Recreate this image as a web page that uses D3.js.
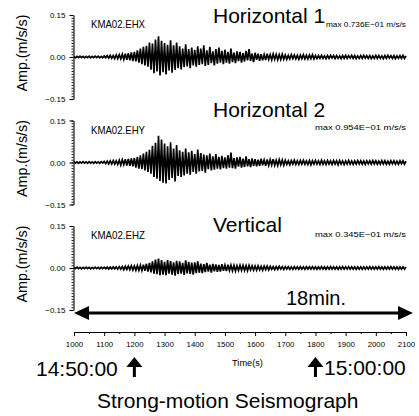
<!DOCTYPE html>
<html><head><meta charset="utf-8">
<script src="https://cdn.jsdelivr.net/npm/d3@7"></script>
<style>
body{margin:0;background:#fff}
svg{display:block}
text{font-family:"Liberation Sans",Arial,Helvetica,sans-serif;fill:#000}
</style>
</head><body>
<svg id="chart" width="419" height="416"></svg>
<script>
// ---------------- data ----------------
const stations = ["KMA02.EHX", "KMA02.EHY", "KMA02.EHZ"];
const componentTitles = ["Horizontal 1", "Horizontal 2", "Vertical"];
const maxLabels = ["max 0.736E\u221201 m/s/s", "max 0.954E\u221201 m/s/s", "max 0.345E\u221201 m/s/s"];
const yAxisTitle = "Amp.(m/s/s)";
const xAxisTitle = "Time(s)";
const yTickValues = [-0.15, 0, 0.15];
const xTickValues = [1000, 1100, 1200, 1300, 1400, 1500, 1600, 1700, 1800, 1900, 2000, 2100];
const durationLabel = "18min.";
const startClock = "14:50:00", startClockTime = 1200;
const endClock = "15:00:00", endClockTime = 1800;
const footerTitle = "Strong-motion Seismograph";
const sampleStart = 1000, sampleStep = 5;   // s
const ampUnit = 1e-3;                        // values below are in 1e-3 m/s/s

const ampEHX = [
 2,-3,2,-2,3,-2,2,-3,2,-2, 3,-3,2,-2,3,-2,3,-3,2,-3,
 4,-3,5,-4,6,-5,5,-6,7,-6,
 8,-7,10,-9,12,-10,14,-12,16,-15,
 18,-16,24,-20,30,-26,36,-30,
 40,-35,52,-45,48,-58,62,-52,74,-66,58,-54,
 50,-62,44,-48,60,-56,42,-46,52,-40,
 38,-44,30,-36,45,-34,28,-40,34,-30,26,-35,38,-28,
 30,-26,42,-32,24,-28,36,-22,20,-30,28,-24,34,-20,22,-26,
 26,-20,18,-24,30,-18,16,-22,20,-15,18,-20,
 14,-16,22,-12,28,-14,12,-18,15,-10,12,-14,
 10,-12,9,-11,12,-9,8,-10,11,-8,9,-10,8,-9,10,-8,
 7,-8,6,-7,8,-6,7,-7,6,-8,7,-6,8,-7,6,-7,7,-6,8,-7,
 5,-6,5,-5,6,-5,4,-6,5,-5, 6,-4,5,-6,5,-5,4,-6,5,-5,
 6,-5,5,-4,6,-5,5,-6,4,-5, 5,-5,6,-4,5,-5,5,-6,4,-5,
 6,-5,5,-5,4,-6,5,-5,6,-4, 5,-5,5,-6,4,-5,5,-5,6,-5, 4
];
const ampEHY = [
 3,-2,2,-3,2,-2,3,-2,2,-3, 3,-2,2,-3,3,-2,2,-3,3,-2,
 4,-4,5,-5,6,-5,7,-6,6,-7,
 8,-9,10,-8,12,-11,13,-12,15,-14,
 16,-18,20,-22,26,-24,32,-28,38,-34,
 45,-40,60,-52,70,-58,95,-66,82,-72,
 68,-75,58,-62,72,-55,50,-68,62,-48,
 44,-52,38,-46,50,-40,36,-44,42,-34,30,-40,46,-32,
 34,-30,28,-36,26,-24,32,-28,22,-26,30,-22,20,-25,24,-20,
 18,-22,26,-18,35,-20,16,-22,18,-15,20,-18,14,-16,22,-14,12,-16,15,-12,
 12,-14,10,-12,14,-10,9,-12,11,-10,10,-9,12,-10,8,-11,10,-8,9,-10,
 8,-7,6,-8,7,-6,8,-7,6,-7, 7,-6,8,-6,6,-7,7,-8,6,-6,
 7,-6,6,-7,8,-6,6,-7,7,-6, 6,-7,7,-6,6,-8,7,-6,6,-7,
 6,-6,7,-6,5,-7,6,-6,7,-5, 6,-6,5,-7,6,-5,6,-6,7,-5,
 6,-6,5,-6,7,-5,6,-6,5,-6, 6,-5,6,-6,5,-6,6,-5,6,-6, 5
];
const ampEHZ = [
 2,-2,3,-2,2,-3,2,-2,3,-2, 2,-3,2,-2,3,-2,2,-3,3,-2, 3,-3,3,-4,3,-3,4,-3,4,-4,
 5,-4,5,-6,6,-5,7,-6,8,-7,7,-8,9,-8,10,-9,
 12,-10,15,-13,18,-16,
 24,-20,30,-22,34,-26,28,-24,
 22,-26,28,-20,25,-24,20,-27,26,-22, 24,-20,18,-25,27,-19,22,-21,19,-24, 20,-18,24,-17,
 16,-18,14,-15,18,-13,12,-16,15,-12,13,-14,11,-13,14,-10,
 10,-11,12,-9,10,-10,9,-11,8,-9, 10,-8,9,-9,8,-10,9,-7,8,-8, 7,-8,8,-7,6,-8,7,-6,7,-7,
 6,-5,5,-6,5,-5,6,-4,5,-5, 5,-4,5,-5,4,-5,5,-4,4,-5, 5,-4,4,-5,5,-4,4,-4,5,-4,
 4,-5,4,-4,5,-4,4,-5,4,-4, 5,-4,4,-4,4,-5,4,-4,5,-4, 4,-4,5,-4,4,-4,4,-5,4,-4,
 4,-5,4,-4,4,-4,5,-4,4,-4, 4,-4,5,-4,4,-5,4,-4,4,-4, 5,-4,4,-4,4,-5,4,-4,4,-4, 4
];
const traces = [ampEHX, ampEHY, ampEHZ];

// ---------------- layout ----------------
const svg = d3.select("#chart");
const x = d3.scaleLinear().domain([1000, 2100]).range([74, 406]);
const panelTop0 = 15, panelStep = 105.5, panelH = 84;
const titleBase = [23, 117, 232];
const maxBase = [27, 130, 237];
const maxX = [326, 315, 315], maxLen = [80, 91, 91];
const axisY = 332;

traces.forEach((vals, p) => {
  const top = panelTop0 + p * panelStep;
  const y = d3.scaleLinear().domain([-0.15, 0.15]).range([top + panelH, top]);
  const g = svg.append("g");

  // minor ticks
  g.append("g").attr("transform", "translate(73.5,0)")
    .call(d3.axisLeft(y).tickValues(d3.range(-15, 16).map(d => d / 100)).tickSize(2).tickSizeOuter(0).tickFormat(""))
    .call(a => a.select(".domain").remove())
    .selectAll("line").attr("stroke", "#000").attr("stroke-width", 0.9);
  // major
  const ya = g.append("g").attr("transform", "translate(73.5,0)")
    .call(d3.axisLeft(y).tickValues(yTickValues).tickSize(4).tickSizeOuter(0).tickPadding(4).tickFormat(d3.format(".2f")));
  ya.select(".domain").attr("stroke", "#000").attr("stroke-width", 1.1);
  ya.selectAll(".tick line").attr("stroke", "#000").attr("stroke-width", 1.1);
  ya.selectAll("text").attr("font-size", 8).attr("font-family", '"Liberation Sans",Arial,sans-serif').attr("fill", "#222");

  // trace
  const line = d3.line()
    .x((d, i) => x(sampleStart + i * sampleStep))
    .y(d => y(d * ampUnit));
  g.append("path").datum(vals).attr("d", line)
    .attr("fill", "none").attr("stroke", "#000").attr("stroke-width", 1.7).attr("stroke-linejoin", "miter");

  // labels
  g.append("text").attr("x", 91).attr("y", top + 13).attr("font-size", 11.5).attr("fill", "#222")
    .attr("textLength", 54).attr("lengthAdjust", "spacingAndGlyphs").text(stations[p]);
  g.append("text").attr("x", 213).attr("y", titleBase[p]).attr("font-size", 21).text(componentTitles[p]);
  g.append("text").attr("x", maxX[p]).attr("y", maxBase[p]).attr("font-size", 7.4).attr("fill", "#333")
    .attr("textLength", maxLen[p]).attr("lengthAdjust", "spacingAndGlyphs").text(maxLabels[p]);
  g.append("text").attr("transform", `translate(27,${top + panelH / 2 - 4}) rotate(-90)`)
    .attr("text-anchor", "middle").attr("font-size", 14).attr("fill", "#222")
    .attr("textLength", 77).attr("lengthAdjust", "spacingAndGlyphs").text(yAxisTitle);
});

// x axis
const xg = svg.append("g").attr("transform", `translate(0,${axisY})`);
xg.append("g").call(d3.axisBottom(x).tickValues(d3.range(1050, 2100, 100)).tickSize(2).tickSizeOuter(0).tickFormat(""))
  .call(a => a.select(".domain").remove())
  .selectAll("line").attr("stroke", "#000");
const xa = xg.append("g").call(d3.axisBottom(x).tickValues(xTickValues).tickSize(4).tickSizeOuter(0).tickPadding(5).tickFormat(d3.format("d")));
xa.select(".domain").attr("stroke", "#000").attr("stroke-width", 1.1);
xa.selectAll(".tick line").attr("stroke", "#000");
xa.selectAll("text").attr("font-size", 7.8).attr("font-family", '"Liberation Sans",Arial,sans-serif').attr("fill", "#222");

svg.append("text").attr("x", 247.5).attr("y", 366).attr("text-anchor", "middle").attr("font-size", 9.2).attr("fill", "#222").text(xAxisTitle);

// duration arrow
const arrowY = 313;
const ax0 = x(1000), ax1 = x(2100) + 7;
svg.append("line").attr("x1", ax0 + 10).attr("x2", ax1 - 10).attr("y1", arrowY).attr("y2", arrowY)
  .attr("stroke", "#000").attr("stroke-width", 3);
svg.append("path").attr("d", `M${ax0},${arrowY} L${ax0 + 15},${arrowY - 7} L${ax0 + 15},${arrowY + 7} Z`).attr("fill", "#000");
svg.append("path").attr("d", `M${ax1},${arrowY} L${ax1 - 15},${arrowY - 7} L${ax1 - 15},${arrowY + 7} Z`).attr("fill", "#000");
svg.append("text").attr("x", 286).attr("y", 305).attr("font-size", 20).text(durationLabel);

// clock markers
function upArrow(cx) {
  svg.append("path").attr("d", `M${cx},357 L${cx + 8},367 L${cx - 8},367 Z`).attr("fill", "#000");
  svg.append("line").attr("x1", cx).attr("x2", cx).attr("y1", 366).attr("y2", 377)
    .attr("stroke", "#000").attr("stroke-width", 3);
}
upArrow(x(startClockTime));
upArrow(x(endClockTime));
svg.append("text").attr("x", 36).attr("y", 376).attr("font-size", 21).text(startClock);
svg.append("text").attr("x", 324).attr("y", 375).attr("font-size", 21).text(endClock);
svg.append("text").attr("x", 97).attr("y", 408).attr("font-size", 21).text(footerTitle);
</script>
</body></html>
